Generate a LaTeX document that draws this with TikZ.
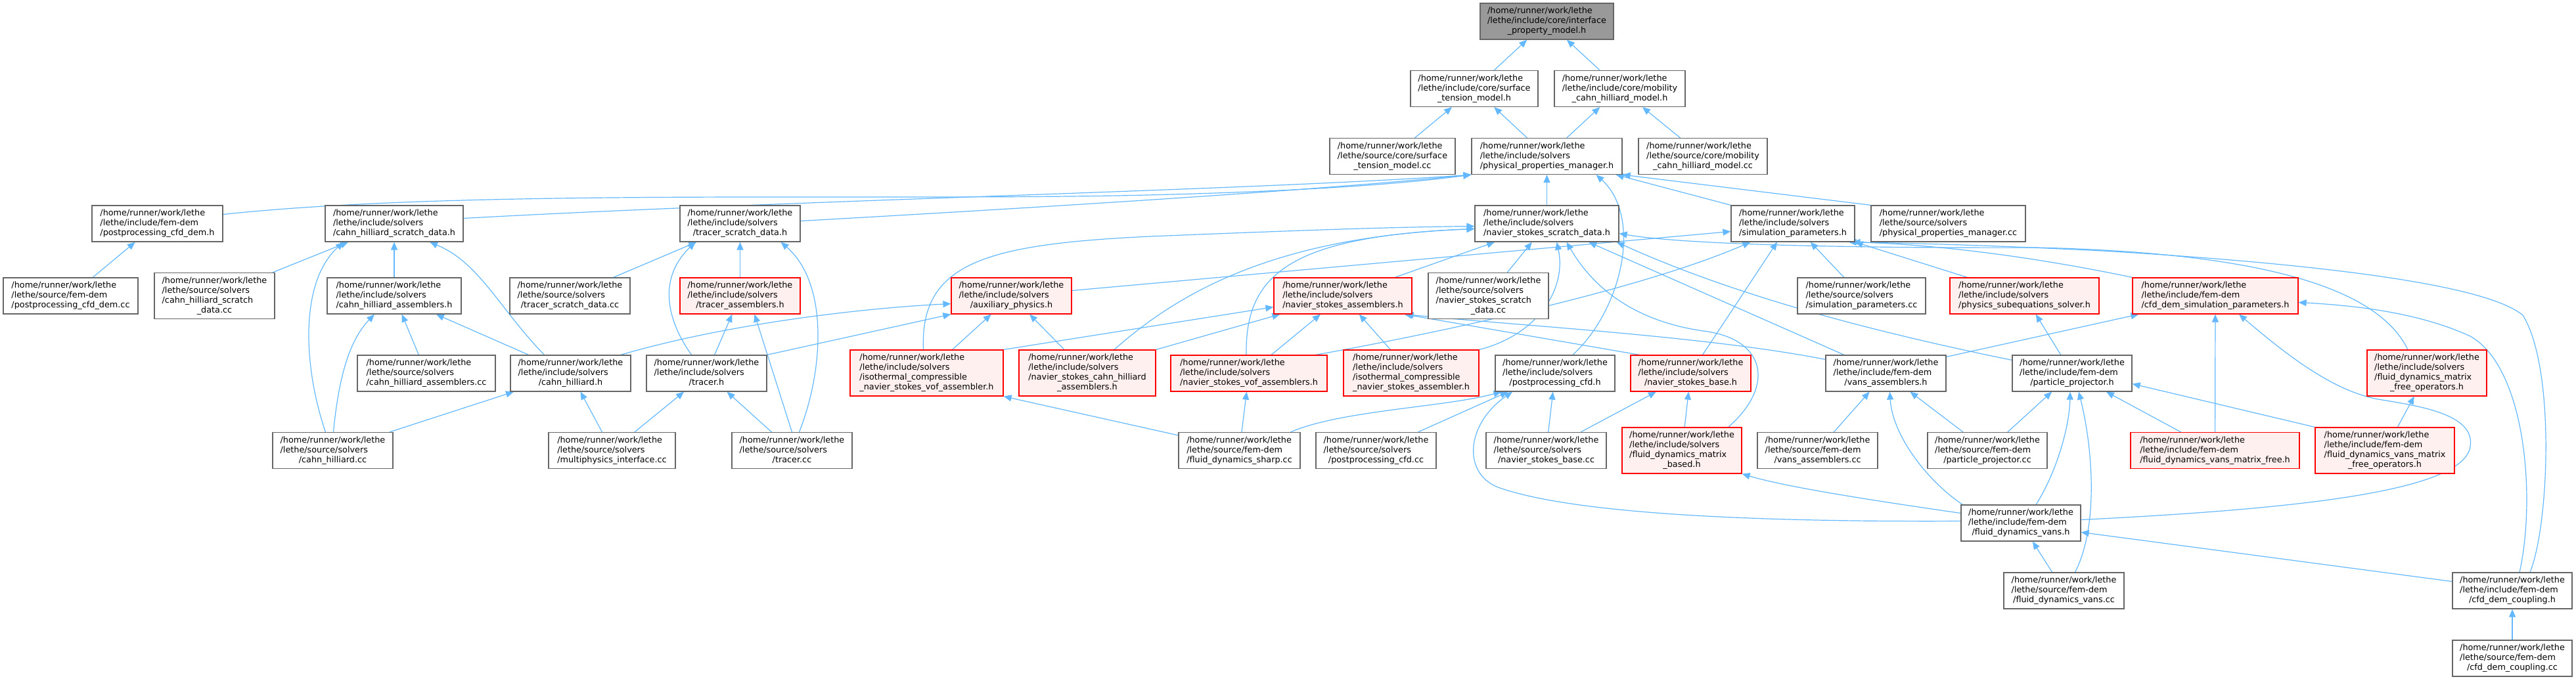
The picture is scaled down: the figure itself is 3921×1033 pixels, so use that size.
\documentclass[tikz,border=0pt]{standalone}
\usepackage{fontspec}
\setmainfont{DejaVu Sans}
\usetikzlibrary{arrows.meta,calc}
\pgfdeclarelayer{bg}
\pgfsetlayers{bg,main}
\definecolor{edgec}{HTML}{63B8FF}
\definecolor{boxc}{HTML}{666666}
\definecolor{redfill}{HTML}{FFF0F0}
\definecolor{rootfill}{HTML}{999999}
\newcommand\nodetxt[3]{\begin{tabular}{@{}l@{}}#1\\#2\\\multicolumn{1}{@{}c@{}}{#3}\end{tabular}}
\newcommand\nodetxtq[4]{\begin{tabular}{@{}l@{}}#1\\#2\\#3\\\multicolumn{1}{@{}c@{}}{#4}\end{tabular}}
\newcommand\hr{/home/runner/work/lethe}
\begin{document}
\begin{tikzpicture}[x=0.75pt,y=-0.75pt,
  box/.style={draw=boxc,fill=white,line width=0.9pt,inner xsep=6pt,inner ysep=0pt,
    font=\fontsize{9.6}{11.25}\selectfont,minimum height=41.25pt,anchor=center},
  nb/.style={box,minimum width=#1*0.75pt},
  rb/.style={box,draw=red,fill=redfill,minimum width=#1*0.75pt},
  root/.style={box,fill=rootfill,minimum width=#1*0.75pt},
  four/.style={minimum height=52.5pt},
  e/.style={draw=edgec,line width=0.9pt,-{Triangle[length=9pt,width=7.5pt]}}]
\useasboundingbox (0,0) rectangle (3921,1033);
% row 1-3
\node[root=203] (ipm) at (2354.5,32.5) {\nodetxt{\hr}{/lethe/include/core/interface}{\_property\_model.h}};
\node[nb=194] (stm) at (2244,135) {\nodetxt{\hr}{/lethe/include/core/surface}{\_tension\_model.h}};
\node[nb=199] (mchm) at (2465.5,135) {\nodetxt{\hr}{/lethe/include/core/mobility}{\_cahn\_hilliard\_model.h}};
\node[nb=191] (stmcc) at (2119.5,238) {\nodetxt{\hr}{/lethe/source/core/surface}{\_tension\_model.cc}};
\node[nb=229] (ppm) at (2354.5,238) {\nodetxt{\hr}{/lethe/include/solvers}{/physical\_properties\_manager.h}};
\node[nb=196] (mchmcc) at (2592,238) {\nodetxt{\hr}{/lethe/source/core/mobility}{\_cahn\_hilliard\_model.cc}};
% row 4
\node[nb=199] (pcdh) at (239.5,340.5) {\nodetxt{\hr}{/lethe/include/fem-dem}{/postprocessing\_cfd\_dem.h}};
\node[nb=210] (chsd) at (600,340.5) {\nodetxt{\hr}{/lethe/include/solvers}{/cahn\_hilliard\_scratch\_data.h}};
\node[nb=183] (tsd) at (1126.5,340.5) {\nodetxt{\hr}{/lethe/include/solvers}{/tracer\_scratch\_data.h}};
\node[nb=219] (nssd) at (2354.5,340.5) {\nodetxt{\hr}{/lethe/include/solvers}{/navier\_stokes\_scratch\_data.h}};
\node[nb=188] (sp) at (2729,340.5) {\nodetxt{\hr}{/lethe/include/solvers}{/simulation\_parameters.h}};
\node[nb=235] (ppmcc) at (2965.5,340.5) {\nodetxt{\hr}{/lethe/source/solvers}{/physical\_properties\_manager.cc}};
% row 5
\node[nb=205] (pcdcc) at (107.5,450.5) {\nodetxt{\hr}{/lethe/source/fem-dem}{/postprocessing\_cfd\_dem.cc}};
\node[nb=183,four] (chsdcc) at (326.5,450.5) {\nodetxtq{\hr}{/lethe/source/solvers}{/cahn\_hilliard\_scratch}{\_data.cc}};
\node[nb=204] (cha) at (600,450.5) {\nodetxt{\hr}{/lethe/include/solvers}{/cahn\_hilliard\_assemblers.h}};
\node[nb=183] (tsdcc) at (867.5,450.5) {\nodetxt{\hr}{/lethe/source/solvers}{/tracer\_scratch\_data.cc}};
\node[rb=183] (ta) at (1126.5,450.5) {\nodetxt{\hr}{/lethe/include/solvers}{/tracer\_assemblers.h}};
\node[rb=183] (aux) at (1539.5,450.5) {\nodetxt{\hr}{/lethe/include/solvers}{/auxiliary\_physics.h}};
\node[rb=210] (nsa) at (2044,450.5) {\nodetxt{\hr}{/lethe/include/solvers}{/navier\_stokes\_assemblers.h}};
\node[nb=183,four] (nssdcc) at (2265.5,450.5) {\nodetxtq{\hr}{/lethe/source/solvers}{/navier\_stokes\_scratch}{\_data.cc}};
\node[nb=195] (spcc) at (2833.5,450.5) {\nodetxt{\hr}{/lethe/source/solvers}{/simulation\_parameters.cc}};
\node[rb=227] (pss) at (3081.5,450.5) {\nodetxt{\hr}{/lethe/include/solvers}{/physics\_subequations\_solver.h}};
\node[rb=252] (cdsp) at (3372,450.5) {\nodetxt{\hr}{/lethe/include/fem-dem}{/cfd\_dem\_simulation\_parameters.h}};
% row 6
\node[nb=210] (chacc) at (649,568.5) {\nodetxt{\hr}{/lethe/source/solvers}{/cahn\_hilliard\_assemblers.cc}};
\node[nb=183] (ch) at (868.5,568.5) {\nodetxt{\hr}{/lethe/include/solvers}{/cahn\_hilliard.h}};
\node[nb=183] (tr) at (1075.5,568.5) {\nodetxt{\hr}{/lethe/include/solvers}{/tracer.h}};
\node[rb=233,four] (icnsva) at (1410.5,568) {\nodetxtq{\hr}{/lethe/include/solvers}{/isothermal\_compressible}{\_navier\_stokes\_vof\_assembler.h}};
\node[rb=208,four] (nscha) at (1655,568) {\nodetxtq{\hr}{/lethe/include/solvers}{/navier\_stokes\_cahn\_hilliard}{\_assemblers.h}};
\node[rb=238] (nsva) at (1901,568.5) {\nodetxt{\hr}{/lethe/include/solvers}{/navier\_stokes\_vof\_assemblers.h}};
\node[rb=206,four] (icnsa) at (2148,568) {\nodetxtq{\hr}{/lethe/include/solvers}{/isothermal\_compressible}{\_navier\_stokes\_assembler.h}};
\node[nb=182] (pcd) at (2367,568.5) {\nodetxt{\hr}{/lethe/include/solvers}{/postprocessing\_cfd.h}};
\node[rb=183] (nsb) at (2573.5,568.5) {\nodetxt{\hr}{/lethe/include/solvers}{/navier\_stokes\_base.h}};
\node[nb=183] (va) at (2870.5,568.5) {\nodetxt{\hr}{/lethe/include/fem-dem}{/vans\_assemblers.h}};
\node[nb=182] (pp) at (3154,568.5) {\nodetxt{\hr}{/lethe/include/fem-dem}{/particle\_projector.h}};
\node[rb=182,four] (fdmfo) at (3694,568) {\nodetxtq{\hr}{/lethe/include/solvers}{/fluid\_dynamics\_matrix}{\_free\_operators.h}};
% row 7
\node[nb=183] (chcc) at (506.5,686) {\nodetxt{\hr}{/lethe/source/solvers}{/cahn\_hilliard.cc}};
\node[nb=193] (mpi) at (931.5,686) {\nodetxt{\hr}{/lethe/source/solvers}{/multiphysics\_interface.cc}};
\node[nb=183] (trcc) at (1205.5,686) {\nodetxt{\hr}{/lethe/source/solvers}{/tracer.cc}};
\node[nb=185] (fdsh) at (1886.5,686) {\nodetxt{\hr}{/lethe/source/fem-dem}{/fluid\_dynamics\_sharp.cc}};
\node[nb=183] (pcdcc2) at (2094.5,686) {\nodetxt{\hr}{/lethe/source/solvers}{/postprocessing\_cfd.cc}};
\node[nb=183] (nsbcc) at (2353.5,686) {\nodetxt{\hr}{/lethe/source/solvers}{/navier\_stokes\_base.cc}};
\node[rb=182,four] (fdmb) at (2560,686) {\nodetxtq{\hr}{/lethe/include/solvers}{/fluid\_dynamics\_matrix}{\_based.h}};
\node[nb=183] (vacc) at (2766.5,686) {\nodetxt{\hr}{/lethe/source/fem-dem}{/vans\_assemblers.cc}};
\node[nb=182] (ppcc) at (3025,686) {\nodetxt{\hr}{/lethe/source/fem-dem}{/particle\_projector.cc}};
\node[rb=257] (fdvmf) at (3371.5,686) {\nodetxt{\hr}{/lethe/include/fem-dem}{/fluid\_dynamics\_vans\_matrix\_free.h}};
\node[rb=212,four] (fdvmfo) at (3630,686) {\nodetxtq{\hr}{/lethe/include/fem-dem}{/fluid\_dynamics\_vans\_matrix}{\_free\_operators.h}};
% rows 8-10
\node[nb=182] (fdv) at (3076,796.5) {\nodetxt{\hr}{/lethe/include/fem-dem}{/fluid\_dynamics\_vans.h}};
\node[nb=183] (fdvcc) at (3141.5,899.5) {\nodetxt{\hr}{/lethe/source/fem-dem}{/fluid\_dynamics\_vans.cc}};
\node[nb=182] (cdc) at (3824,899.5) {\nodetxt{\hr}{/lethe/include/fem-dem}{/cfd\_dem\_coupling.h}};
\node[nb=182] (cdccc) at (3824,1002.5) {\nodetxt{\hr}{/lethe/source/fem-dem}{/cfd\_dem\_coupling.cc}};
\begin{pgfonlayer}{bg}
% top
\draw[e] (stm) -- (ipm);
\draw[e] (mchm) -- (ipm);
\draw[e] (stmcc) -- (stm);
\draw[e] (ppm) -- (stm);
\draw[e] (ppm) -- (mchm);
\draw[e] (mchmcc) -- (mchm);
\draw[e] (nssd) -- (ppm);
\draw[e] ($(pcdh.east)+(0,-14)$) .. controls (700,288) and (1300,305) .. (1700,298) .. controls (2000,292) and (2150,278) .. (ppm.south west);
\draw[e] ($(chsd.east)+(0,-8)$) .. controls (1200,305) and (1900,290) .. (ppm.south west);
\draw[e] ($(tsd.east)+(0,-4)$) .. controls (1600,315) and (2000,290) .. (ppm.south west);
\draw[e] ($(pcd.north)+(27,0)$) .. controls (2470,470) and (2500,330) .. ($(ppm.south)+(75,0)$);
\draw[e] (sp.north west) -- ($(ppm.south east)+(-10,0)$);
\draw[e] (ppmcc.north west) -- (ppm.south east);
% left cluster
\draw[e] (pcdcc) -- (pcdh);
\draw[e] (chsdcc) -- (chsd);
\draw[e] ($(chcc.north)+(-11,0)$) .. controls (462,560) and (455,430) .. ($(chsd.south)+(-77,0)$);
\draw[e] ($(chcc.north)+(1,0)$) .. controls (515,580) and (530,520) .. ($(cha.south)+(-30,0)$);
\draw[e] (cha) -- (chsd);
\draw[e] ($(ch.north)+(-40,0)$) .. controls (760,470) and (730,400) .. ($(chsd.south)+(54,0)$);
\draw[e] (ch) -- (cha);
\draw[e] (chacc) -- (cha);
\draw[e] (chcc) -- (ch);
\draw[e] (mpi) -- (ch);
\draw[e] (mpi) -- (tr);
\draw[e] (tsdcc) -- (tsd);
\draw[e] ($(ch.north east)+(-16,0)$) .. controls (1100,495) and (1300,470) .. ($(aux.west)+(0,12)$);
\draw[e] (tr.north east) -- (aux.south west);
\draw[e] ($(tr.north)+(-23,0)$) .. controls (1010,480) and (1005,420) .. ($(tsd.south)+(-68,0)$);
\draw[e] (ta) -- (tsd);
\draw[e] ($(trcc.north)+(11,0)$) .. controls (1255,560) and (1260,430) .. ($(tsd.south)+(62,0)$);
\draw[e] (tr) -- (ta);
\draw[e] (trcc.north) -- ($(ta.south)+(22,0)$);
\draw[e] (trcc) -- (tr);
% middle
\draw[e] ($(icnsva.north)+(-5,0)$) .. controls (1400,400) and (1500,372) .. (1750,360) .. controls (1950,352) and (2100,346) .. ($(nssd.west)+(0,4)$);
\draw[e] (icnsva) -- (aux);
\draw[e] (icnsva.north east) -- ($(nsa.west)+(0,17)$);
\draw[e] (nscha) -- (aux);
\draw[e] ($(nscha.north)+(41,0)$) .. controls (1800,440) and (1950,360) .. ($(nssd.west)+(0,8)$);
\draw[e] (nscha.north east) -- ($(nsa.south west)+(10,0)$);
\draw[e] ($(nsva.north)+(-4,0)$) .. controls (1895,420) and (1960,360) .. ($(nssd.west)+(0,8)$);
\draw[e] (nsva) -- (nsa);
\draw[e] ($(nsva.north east)+(-18,0)$) .. controls (2200,505) and (2500,440) .. ($(sp.south west)+(30,0)$);
\draw[e] (icnsa) -- (nsa);
\draw[e] (icnsa.north east) .. controls (2340,510) and (2385,440) .. ($(nssd.south)+(15,0)$);
\draw[e] (nsa) -- (nssd);
\draw[e] (nssdcc) -- (nssd);
\draw[e] ($(fdmb.north east)+(-21,0)$) .. controls (2700,590) and (2690,520) .. (2600,505) .. controls (2480,490) and (2420,430) .. ($(nssd.south)+(30,0)$);
\draw[e] (va) -- (nssd);
\draw[e] ($(pp.north west)+(0,8)$) .. controls (2850,505) and (2640,450) .. ($(nssd.south east)+(-4,0)$);
\draw[e] ($(fdmfo.north)+(-29,0)$) .. controls (3620,440) and (3450,385) .. (3100,377) .. controls (2800,378) and (2560,372) .. ($(nssd.east)+(0,15)$);
\draw[e] ($(cdc.north)+(27,0)$) .. controls (3880,800) and (3890,560) .. (3840,480) .. controls (3780,430) and (3500,400) .. (3200,382) .. controls (3000,372) and (2880,370) .. ($(sp.south east)+(-4,0)$);
\draw[e] ($(cdc.north)+(11,0)$) .. controls (3860,760) and (3845,560) .. (3760,512) .. controls (3680,475) and (3580,465) .. ($(cdsp.east)+(0,10)$);
\draw[e] ($(cdc.west)+(0,-14)$) -- ($(fdv.east)+(0,14)$);
\draw[e] (cdccc) -- (cdc);
\draw[e] ($(pss.north west)+(27,0)$) -- (sp.south east);
\draw[e] (cdsp.north west) .. controls (3100,392) and (2950,372) .. ($(sp.south east)+(-10,0)$);
\draw[e] ($(aux.east)+(0,-8)$) -- ($(sp.west)+(0,12)$);
\draw[e] ($(nsb.north)+(18,0)$) -- ($(sp.south)+(-24,0)$);
\draw[e] (spcc) -- (sp);
\draw[e] ($(nsb.north west)+(14,0)$) -- ($(nsa.south east)+(-12,0)$);
\draw[e] ($(va.north west)+(0,7)$) .. controls (2600,512) and (2300,495) .. ($(nsa.south east)+(-10,0)$);
\draw[e] ($(va.north east)+(0,3)$) -- ($(cdsp.south west)+(10,0)$);
\draw[e] (pp) -- (pss);
\draw[e] (fdvmf) -- (cdsp);
\draw[e] ($(fdv.east)+(0,-5)$) .. controls (3500,775) and (3750,748) .. (3760,680) .. controls (3768,630) and (3680,618) .. (3620,608) .. controls (3550,595) and (3480,540) .. ($(cdsp.south)+(36,0)$);
\draw[e] ($(fdv.north west)+(3,0)$) .. controls (2930,730) and (2880,660) .. ($(va.south)+(6,0)$);
\draw[e] (vacc) -- (va);
\draw[e] (ppcc) -- (va);
\draw[e] (ppcc) -- (pp);
\draw[e] ($(fdv.north)+(23,0)$) .. controls (3130,720) and (3150,650) .. ($(pp.south)+(-3,0)$);
\draw[e] ($(fdvcc.north)+(17,0)$) .. controls (3195,800) and (3185,680) .. ($(pp.south)+(10,0)$);
\draw[e] (fdvcc) -- (fdv);
\draw[e] (fdvmf) -- (pp);
\draw[e] (fdvmfo.north west) -- ($(pp.east)+(0,16)$);
\draw[e] (fdvmfo) -- (fdmfo);
\draw[e] ($(fdv.west)+(0,-15)$) .. controls (2850,762) and (2720,742) .. (fdmb.south east);
\draw[e] ($(fdv.west)+(0,-3)$) .. controls (2700,795) and (2400,785) .. (2280,742) .. controls (2225,720) and (2232,645) .. ($(pcd.south)+(-65,0)$);
\draw[e] ($(fdsh.north east)+(-15,0)$) .. controls (2040,625) and (2200,620) .. ($(pcd.south west)+(10,0)$);
\draw[e] ($(pcdcc2.north)+(64,0)$) -- ($(pcd.south west)+(20,0)$);
\draw[e] (nsbcc) -- (pcd);
\draw[e] (nsbcc) -- (nsb);
\draw[e] (fdmb) -- (nsb);
\draw[e] (fdsh) -- (nsva);
\draw[e] ($(fdsh.north west)+(0,5)$) -- (icnsva.south east);
\end{pgfonlayer}
\end{tikzpicture}
\end{document}
